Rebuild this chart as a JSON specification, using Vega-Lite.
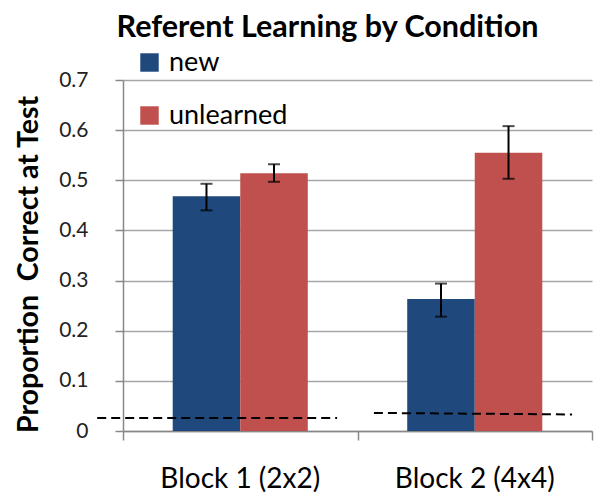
{
  "$schema": "https://vega.github.io/schema/vega-lite/v6.json",
  "width": 469,
  "height": 351,
  "autosize": {"type": "none"},
  "padding": {"left": 123, "top": 80, "right": 2, "bottom": 65},
  "config": {"font": "Lato", "view": {"stroke": null}},
  "title": {"text": "Referent Learning by Condition", "fontSize": 30.5, "fontWeight": "bold", "font": "Lato", "color": "black", "frame": "group", "anchor": "middle", "dx": -30, "offset": 6},
  "datasets": {
    "bars": [
      {"block": "Block 1 (2x2)", "cond": "new", "value": 0.468, "lo": 0.440, "hi": 0.493},
      {"block": "Block 1 (2x2)", "cond": "unlearned", "value": 0.514, "lo": 0.497, "hi": 0.532},
      {"block": "Block 2 (4x4)", "cond": "new", "value": 0.263, "lo": 0.228, "hi": 0.294},
      {"block": "Block 2 (4x4)", "cond": "unlearned", "value": 0.555, "lo": 0.503, "hi": 0.608}
    ],
    "chance": [
      {"x": -0.11, "x2": 0.913, "y": 0.026, "y2": 0.026},
      {"x": 1.07, "x2": 1.915, "y": 0.036, "y2": 0.033}
    ]
  },
  "layer": [
    {
      "data": {"name": "bars"},
      "encoding": {
        "x": {"field": "block", "type": "nominal", "sort": ["Block 1 (2x2)", "Block 2 (4x4)"],
          "scale": {"paddingInner": 0.424, "paddingOuter": 0.212},
          "axis": {"orient": "bottom", "title": null, "ticks": false, "domain": false, "labelAngle": 0, "labelFontSize": 28, "labelColor": "black", "labelPadding": 34, "labelFont": "Lato"}},
        "xOffset": {"field": "cond", "type": "nominal", "sort": ["new", "unlearned"], "scale": {"paddingInner": 0, "paddingOuter": 0}}
      },
      "layer": [
        {
          "mark": {"type": "bar"},
          "encoding": {
            "y": {"field": "value", "type": "quantitative",
              "scale": {"domain": [0, 0.7], "nice": false},
              "axis": {"title": "Proportion\u00a0 Correct at Test", "titleFontSize": 28.5, "titleFontWeight": "bold", "titleColor": "black", "titlePadding": 15, "titleFont": "Lato", "titleY": 184,
                "values": [0, 0.1, 0.2, 0.3, 0.4, 0.5, 0.6, 0.7], "format": ".1~f", "labelFontSize": 21, "labelColor": "#222", "labelPadding": 27, "labelFont": "Lato",
                "tickSize": 8, "tickColor": "#888", "tickWidth": 1.5, "domainColor": "#888", "domainWidth": 1.5,
                "grid": true, "gridColor": "#A6A6A6", "gridWidth": 1.5}},
            "color": {"field": "cond", "type": "nominal",
              "scale": {"domain": ["new", "unlearned"], "range": ["#1F497D", "#C0504D"]},
              "legend": {"orient": "none", "legendX": 13, "legendY": -31, "title": null, "symbolType": "square", "symbolSize": 340, "symbolStrokeWidth": 0, "labelFontSize": 27, "labelColor": "black", "labelOffset": 6, "rowPadding": 25, "padding": 0, "labelFont": "Lato"}}
          }
        },
        {
          "mark": {"type": "rule", "color": "black", "strokeWidth": 2},
          "encoding": {"y": {"field": "lo", "type": "quantitative"}, "y2": {"field": "hi"}}
        },
        {
          "mark": {"type": "tick", "color": "black", "size": 12, "thickness": 2},
          "encoding": {"y": {"field": "lo", "type": "quantitative"}}
        },
        {
          "mark": {"type": "tick", "color": "black", "size": 12, "thickness": 2},
          "encoding": {"y": {"field": "hi", "type": "quantitative"}}
        }
      ]
    },
    {
      "data": {"name": "chance"},
      "mark": {"type": "rule", "color": "black", "strokeWidth": 2, "strokeDash": [9, 5]},
      "encoding": {
        "x": {"field": "x", "type": "quantitative", "scale": {"domain": [0, 2], "nice": false, "zero": false},
          "axis": {"orient": "bottom", "title": null, "values": [0, 1, 2], "labels": false, "grid": false, "tickSize": 9, "tickColor": "#888", "tickWidth": 1.5, "domainColor": "#888", "domainWidth": 1.5}},
        "x2": {"field": "x2"},
        "y": {"field": "y", "type": "quantitative"},
        "y2": {"field": "y2"}
      }
    }
  ],
  "resolve": {"scale": {"x": "independent"}, "axis": {"x": "independent"}}
}
